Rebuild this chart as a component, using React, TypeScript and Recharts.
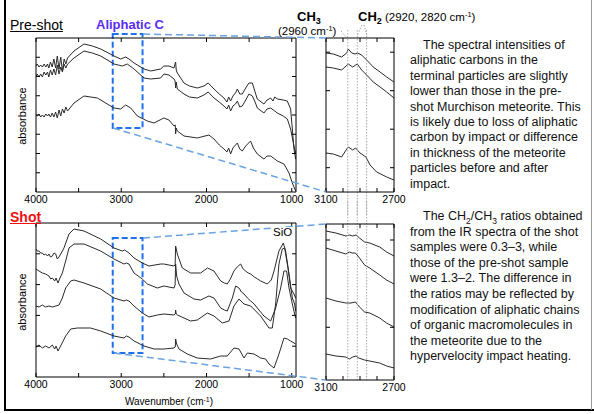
import type { ReactNode } from "react";
import { Line, LineChart, ReferenceArea, ReferenceLine, XAxis, YAxis } from "recharts";

type Pt = [number, number]; // [wavenumber cm-1, absorbance (arb., offset)]

// pre-shot, full range
const preShotUpper: Pt[] = [
  [4000, 126], [3985, 128], [3965, 125], [3945, 127], [3925, 125], [3905, 128], [3885, 125], [3865, 128],
  [3850, 124], [3830, 130], [3810, 125], [3790, 133], [3770, 124], [3750, 136], [3730, 123], [3710, 135],
  [3690, 121], [3670, 133], [3650, 128], [3630, 134], [3554, 141], [3437, 148], [3339, 146], [3241, 143],
  [3085, 136], [3007, 133], [2948, 135], [2909, 133], [2850, 129], [2733, 123], [2655, 121], [2538, 123],
  [2500, 126], [2440, 126], [2381, 124], [2370, 128], [2362, 130], [2355, 122], [2342, 119], [2264, 109],
  [2200, 106], [2108, 104], [2030, 106], [1980, 109], [1912, 103], [1850, 98], [1795, 94], [1760, 90],
  [1740, 95], [1717, 91], [1690, 96], [1660, 99], [1638, 103], [1610, 98], [1580, 98], [1540, 104],
  [1502, 109], [1462, 109], [1430, 100], [1404, 93], [1326, 88], [1290, 92], [1247, 94], [1220, 91],
  [1200, 95], [1169, 93], [1100, 92], [1052, 91], [1013, 83], [993, 63], [974, 43], [954, 33]
];
const preShotMiddle: Pt[] = [
  [4000, 116], [3985, 118], [3965, 115], [3945, 118], [3925, 115], [3905, 120], [3885, 117], [3865, 120],
  [3850, 115], [3830, 122], [3810, 117], [3790, 123], [3770, 117], [3750, 127], [3730, 118], [3710, 125],
  [3690, 120], [3670, 128], [3650, 124], [3630, 128], [3554, 134], [3437, 141], [3339, 139], [3241, 136],
  [3085, 128], [2987, 126], [2929, 128], [2850, 123], [2733, 114], [2655, 113], [2538, 114], [2500, 118],
  [2440, 117], [2381, 113], [2368, 111], [2362, 104], [2355, 110], [2342, 103], [2264, 98], [2200, 95],
  [2108, 94], [2030, 97], [1980, 100], [1912, 94], [1850, 90], [1795, 86], [1760, 83], [1740, 87],
  [1717, 81], [1690, 86], [1660, 88], [1638, 91], [1610, 85], [1580, 86], [1540, 92], [1502, 98],
  [1462, 96], [1430, 90], [1404, 84], [1326, 79], [1290, 83], [1247, 84], [1200, 81], [1169, 79],
  [1100, 76], [1052, 73], [1013, 63], [974, 46], [954, 39]
];
const preShotLower: Pt[] = [
  [4000, 77], [3985, 76], [3965, 78], [3945, 75], [3925, 77], [3905, 75], [3885, 78], [3865, 76],
  [3850, 78], [3830, 75], [3810, 79], [3790, 75], [3770, 80], [3750, 74], [3730, 82], [3710, 76],
  [3690, 83], [3670, 79], [3650, 85], [3630, 81], [3554, 89], [3437, 96], [3280, 94], [3085, 84],
  [3007, 83], [2948, 87], [2889, 84], [2811, 76], [2694, 71], [2616, 69], [2500, 74], [2440, 72],
  [2381, 66], [2366, 67], [2362, 58], [2355, 64], [2342, 61], [2264, 56], [2108, 54], [1972, 57],
  [1912, 53], [1850, 47], [1795, 43], [1760, 40], [1740, 44], [1717, 38], [1690, 44], [1660, 47],
  [1638, 49], [1610, 43], [1580, 41], [1540, 46], [1483, 51], [1450, 44], [1404, 38], [1326, 33],
  [1290, 36], [1247, 36], [1200, 33], [1169, 31], [1091, 28], [1032, 19], [993, 9], [954, 1]
];

// shot samples, full range
const shot1: Pt[] = [
  [4000, 128], [3985, 126], [3965, 126], [3945, 124], [3926, 124], [3905, 122], [3887, 123], [3865, 121],
  [3848, 123], [3830, 120], [3808, 121], [3789, 124], [3769, 123], [3750, 118], [3730, 120], [3711, 123],
  [3690, 126], [3672, 129], [3613, 143], [3554, 148], [3437, 146], [3241, 138], [3085, 129], [2987, 126],
  [2960, 127], [2909, 124], [2850, 119], [2753, 114], [2675, 111], [2538, 113], [2500, 113], [2381, 111],
  [2368, 112], [2362, 131], [2350, 126], [2342, 123], [2284, 109], [2186, 104], [2069, 104], [1990, 109],
  [1912, 106], [1834, 96], [1790, 94], [1756, 93], [1720, 98], [1678, 106], [1640, 110], [1600, 113],
  [1570, 108], [1541, 106], [1510, 104], [1482, 103], [1440, 100], [1400, 98], [1365, 96], [1287, 93],
  [1240, 97], [1208, 106], [1150, 126], [1099, 134], [1072, 126], [1032, 103], [993, 79], [966, 73], [954, 66]
];
const shot2: Pt[] = [
  [4000, 108], [3965, 106], [3926, 104], [3887, 103], [3848, 101], [3828, 98], [3808, 99], [3781, 96],
  [3765, 99], [3742, 94], [3719, 99], [3691, 104], [3652, 116], [3613, 129], [3554, 133], [3437, 133],
  [3241, 126], [3085, 118], [2968, 113], [2940, 114], [2909, 113], [2850, 104], [2753, 98], [2694, 93],
  [2577, 89], [2500, 91], [2381, 89], [2368, 92], [2362, 113], [2350, 101], [2323, 93], [2264, 84],
  [2147, 78], [2069, 77], [1971, 81], [1912, 79], [1834, 69], [1790, 67], [1756, 66], [1697, 79],
  [1658, 91], [1619, 89], [1590, 85], [1560, 83], [1520, 79], [1482, 76], [1440, 73], [1404, 69],
  [1326, 61], [1247, 56], [1189, 69], [1130, 89], [1091, 106], [1060, 106], [1032, 89], [1010, 80],
  [993, 73], [974, 66], [954, 59]
];
const shot3: Pt[] = [
  [4000, 71], [3965, 70], [3926, 72], [3887, 70], [3848, 71], [3808, 70], [3769, 71], [3730, 72],
  [3691, 79], [3652, 89], [3593, 96], [3554, 97], [3437, 94], [3241, 88], [3085, 79], [2968, 76],
  [2940, 77], [2909, 76], [2850, 71], [2753, 64], [2675, 60], [2577, 62], [2500, 63], [2381, 62],
  [2366, 63], [2362, 67], [2355, 63], [2342, 62], [2186, 56], [2108, 57], [1990, 64], [1912, 61],
  [1815, 54], [1736, 56], [1678, 71], [1619, 78], [1560, 73], [1482, 71], [1365, 61], [1267, 49],
  [1228, 49], [1189, 73], [1150, 113], [1111, 128], [1083, 129], [1044, 109], [1013, 89], [974, 83], [954, 79]
];
const shot4: Pt[] = [
  [4000, 30], [3965, 32], [3926, 29], [3887, 31], [3848, 29], [3808, 32], [3781, 28], [3765, 31],
  [3742, 26], [3711, 31], [3652, 41], [3593, 48], [3515, 49], [3359, 49], [3241, 46], [3085, 41],
  [2968, 39], [2940, 41], [2909, 40], [2850, 36], [2733, 31], [2616, 28], [2500, 28], [2381, 29],
  [2366, 30], [2362, 38], [2350, 33], [2323, 28], [2225, 23], [2108, 19], [1951, 18], [1834, 21],
  [1756, 21], [1678, 29], [1619, 28], [1560, 19], [1521, 24], [1443, 23], [1365, 19], [1306, 18],
  [1267, 13], [1208, 9], [1150, 23], [1091, 39], [1052, 38], [1013, 36], [954, 33]
];

// zoomed aliphatic C-H region
const preZoom1: Pt[] = [
  [3100, 139], [3057, 138], [3008, 135], [2978, 139], [2969, 143], [2949, 139], [2929, 138], [2916, 139],
  [2890, 137], [2861, 132], [2822, 125], [2782, 120], [2743, 115], [2700, 110]
];
const preZoom2: Pt[] = [
  [3100, 125], [3057, 124], [3008, 122], [2969, 128], [2943, 125], [2916, 128], [2890, 122], [2861, 117],
  [2822, 110], [2782, 105], [2743, 100], [2700, 94]
];
const preZoom3: Pt[] = [
  [3100, 39], [3057, 38], [3008, 35], [2978, 43], [2969, 45], [2943, 42], [2926, 44], [2900, 39],
  [2865, 35], [2841, 27], [2802, 20], [2743, 15], [2700, 12]
];
const shotZoom1: Pt[] = [
  [3100, 149], [3042, 147], [2983, 144], [2963, 145], [2943, 144], [2923, 145], [2903, 142], [2873, 138],
  [2843, 137], [2784, 133], [2744, 128], [2700, 124]
];
const shotZoom2: Pt[] = [
  [3100, 132], [3042, 129], [2983, 126], [2963, 128], [2947, 127], [2927, 127], [2903, 122], [2873, 115],
  [2843, 112], [2784, 105], [2744, 100], [2700, 96]
];
const shotZoom3: Pt[] = [
  [3100, 82], [3042, 79], [2983, 77], [2953, 77], [2927, 78], [2903, 73], [2873, 68], [2843, 67],
  [2784, 62], [2744, 57], [2700, 53]
];
const shotZoom4: Pt[] = [
  [3100, 26], [3042, 24], [2983, 23], [2963, 21], [2943, 23], [2923, 24], [2907, 22], [2873, 20],
  [2843, 19], [2784, 17], [2744, 14], [2700, 12]
];

const mainXTicks = [4000, 3500, 3000, 2500, 2000, 1500, 1000];
const mainXLabels = [4000, 3000, 2000, 1000];
const zoomXTicks = [3100, 3000, 2900, 2800, 2700];
const zoomXLabels = [3100, 2700];
const preYTicks = [19.25, 38.5, 57.75, 77, 96.25, 115.5, 134.75];
const shotYTicks = [30.8, 61.6, 92.4, 123.2];
const preZoomYTicks = [24.3, 62.8, 101.3, 139.8];
const shotZoomYTicks = [52.7, 140];
const peakLines = [2972, 2916, 2861];
const zoomRange = [3100, 2750];

const rows = (pts: Pt[]) => pts.map(([w, v]) => ({ w, v }));
const blank = () => "";

type PanelProps = {
  left: number;
  top: number;
  width: number;
  height: number;
  margin: { top: number; right: number; bottom: number; left: number };
  xDomain: [number, number];
  yDomain: [number, number];
  xTicks: number[];
  xLabels: number[];
  yTicks: number[];
  curves: Pt[][];
  children?: ReactNode;
};

function Panel(p: PanelProps) {
  const shared = { type: "number" as const, allowDataOverflow: true, interval: 0, tickSize: -4, stroke: "#000" };
  return (
    <div style={{ position: "absolute", left: p.left, top: p.top }}>
      <LineChart width={p.width} height={p.height} margin={p.margin}>
        <XAxis
          {...shared}
          xAxisId="b"
          dataKey="w"
          domain={p.xDomain}
          reversed
          ticks={p.xTicks}
          tickFormatter={(v: number) => (p.xLabels.includes(v) ? String(v) : "")}
          tickMargin={8}
          height={20}
          tick={{ fontSize: 10.5, fill: "#000" }}
        />
        <XAxis {...shared} xAxisId="t" orientation="top" dataKey="w" domain={p.xDomain} reversed ticks={p.xTicks} tickFormatter={blank} height={1} />
        <YAxis {...shared} yAxisId="l" domain={p.yDomain} ticks={p.yTicks} tickFormatter={blank} width={1} />
        <YAxis {...shared} yAxisId="r" orientation="right" domain={p.yDomain} ticks={p.yTicks} tickFormatter={blank} width={1} />
        {p.curves.map((c, i) => (
          <Line
            key={i}
            data={rows(c)}
            dataKey="v"
            xAxisId="b"
            yAxisId="l"
            type="linear"
            stroke="#2a2a2a"
            strokeWidth={1}
            dot={false}
            isAnimationActive={false}
          />
        ))}
        {p.children}
      </LineChart>
    </div>
  );
}

const boxStyle = { stroke: "#1f70f0", strokeWidth: 2, strokeDasharray: "6 3", fill: "none" };
const dotLine = { stroke: "#a8a8a8", strokeWidth: 1, strokeDasharray: "1.5 1.5" };

const para1 = [
  "The spectral intensities of",
  "aliphatic carbons in the",
  "terminal particles are slightly",
  "lower than those in the pre-",
  "shot Murchison meteorite. This",
  "is likely due to loss of aliphatic",
  "carbon by impact or difference",
  "in thickness of the meteorite",
  "particles before and after",
  "impact."
];
const para2Rest = [
  "from the IR spectra of the shot",
  "samples were 0.3–3, while",
  "those of the pre-shot sample",
  "were 1.3–2. The difference in",
  "the ratios may be reflected by",
  "modification of aliphatic chains",
  "of organic macromolecules in",
  "the meteorite due to the",
  "hypervelocity impact heating."
];

const abs = (left: number, top: number, extra = {}) => ({ position: "absolute" as const, left, top, whiteSpace: "nowrap" as const, lineHeight: 1, ...extra });
const subStyle = { fontSize: 9, lineHeight: 0, verticalAlign: "-3px" };
const supStyle = { fontSize: 7.5, lineHeight: 0, verticalAlign: "4px" };
const rotated = (top: number) => ({
  position: "absolute" as const,
  left: 22,
  top,
  transform: "translate(-50%, -50%) rotate(-90deg)",
  fontSize: 11,
  whiteSpace: "nowrap" as const
});

export default function App() {
  return (
    <div
      style={{
        position: "fixed",
        left: 0,
        top: 0,
        width: 594,
        height: 414,
        background: "#fff",
        fontFamily: "Arial, 'Liberation Sans', sans-serif",
        color: "#000",
        overflow: "hidden"
      }}
    >
      <Panel
        left={0} top={0} width={310} height={215}
        margin={{ top: 37, right: 13, bottom: 3, left: 35 }}
        xDomain={[950, 4000]} yDomain={[0, 154]}
        xTicks={mainXTicks} xLabels={mainXLabels} yTicks={preYTicks}
        curves={[preShotUpper, preShotMiddle, preShotLower]}
      >
        <ReferenceArea x1={zoomRange[0]} x2={zoomRange[1]} y1={64} y2={158} xAxisId="b" yAxisId="l" ifOverflow="visible" {...boxStyle} />
      </Panel>
      <Panel
        left={0} top={200} width={310} height={200}
        margin={{ top: 22, right: 13, bottom: 3, left: 35 }}
        xDomain={[950, 4000]} yDomain={[0, 154]}
        xTicks={mainXTicks} xLabels={mainXLabels} yTicks={shotYTicks}
        curves={[shot1, shot2, shot3, shot4]}
      >
        <ReferenceArea x1={zoomRange[0]} x2={zoomRange[1]} y1={24} y2={139} xAxisId="b" yAxisId="l" ifOverflow="visible" {...boxStyle} />
      </Panel>
      <Panel
        left={300} top={0} width={110} height={215}
        margin={{ top: 37, right: 15, bottom: 3, left: 25 }}
        xDomain={[2700, 3100]} yDomain={[0, 154]}
        xTicks={zoomXTicks} xLabels={zoomXLabels} yTicks={preZoomYTicks}
        curves={[preZoom1, preZoom2, preZoom3]}
      >
        {peakLines.map((x) => (
          <ReferenceLine key={x} segment={[{ x, y: 162 }, { x, y: -23 }]} xAxisId="b" yAxisId="l" ifOverflow="visible" {...dotLine} />
        ))}
      </Panel>
      <Panel
        left={300} top={200} width={110} height={203}
        margin={{ top: 23, right: 15, bottom: 3, left: 25 }}
        xDomain={[2700, 3100]} yDomain={[0, 156]}
        xTicks={zoomXTicks} xLabels={zoomXLabels} yTicks={shotZoomYTicks}
        curves={[shotZoom1, shotZoom2, shotZoom3, shotZoom4]}
      >
        {peakLines.map((x) => (
          <ReferenceLine key={x} segment={[{ x, y: 190 }, { x, y: 0 }]} xAxisId="b" yAxisId="l" ifOverflow="visible" {...dotLine} />
        ))}
      </Panel>

      {/* zoom connectors, label leaders and page frame */}
      <svg width={594} height={414} style={{ position: "absolute", left: 0, top: 0, pointerEvents: "none" }}>
        <g stroke="#6aa3e0" strokeWidth={1.5} strokeDasharray="7 4" fill="none">
          <line x1={143} y1={34} x2={326} y2={38} />
          <line x1={113} y1={128} x2={326} y2={192} />
          <line x1={143} y1={238} x2={326} y2={224} />
          <line x1={114} y1={353} x2={326} y2={380} />
        </g>
        <g stroke="#a8a8a8" strokeWidth={1} strokeDasharray="1.5 1.5">
          <line x1={341} y1={31} x2={347} y2={38} />
          <line x1={362} y1={25} x2={357} y2={36} />
          <line x1={364} y1={25} x2={367} y2={36} />
        </g>
        <line x1={5} y1={0} x2={5} y2={410} stroke="#000" strokeWidth={2} />
        <line x1={4} y1={410} x2={594} y2={410} stroke="#000" strokeWidth={2} />
        <line x1={591.5} y1={0} x2={591.5} y2={410} stroke="#999" strokeWidth={1} />
      </svg>

      <div style={abs(10, 18, { fontSize: 14, textDecoration: "underline" })}>Pre-shot</div>
      <div style={abs(96, 18, { fontSize: 13, fontWeight: 700, color: "#5a2cf5" })}>Aliphatic C</div>
      <div style={abs(10, 210, { fontSize: 14, fontWeight: 700, color: "#f01010", textDecoration: "underline" })}>Shot</div>
      <div style={abs(272, 227, { fontSize: 11.5, background: "#fff", padding: "0 1px" })}>SiO</div>

      <div style={abs(297, 10, { fontSize: 13, fontWeight: 700 })}>
        CH<sub style={subStyle}>3</sub>
      </div>
      <div style={abs(278, 26, { fontSize: 11.5 })}>
        (2960 cm<sup style={supStyle}>-1</sup>)
      </div>
      <div style={abs(358, 10, { fontSize: 13 })}>
        <b>CH<sub style={subStyle}>2</sub></b>
        <span style={{ fontSize: 11.5 }}> (2920, 2820 cm<sup style={supStyle}>-1</sup>)</span>
      </div>

      <div style={rotated(116)}>absorbance</div>
      <div style={rotated(302)}>absorbance</div>
      <div style={{ position: "absolute", left: 169, top: 401, transform: "translate(-50%, -50%)", fontSize: 10, whiteSpace: "nowrap" }}>
        Wavenumber (cm<sup style={{ fontSize: 7, lineHeight: 0, verticalAlign: "3px" }}>-1</sup>)
      </div>

      <div style={{ position: "absolute", left: 410, top: 38, fontSize: 12.5, lineHeight: "15.4px", color: "#111" }}>
        {para1.map((t, i) => (
          <div key={i} style={{ whiteSpace: "nowrap", paddingLeft: i === 0 ? 13 : 0 }}>{t}</div>
        ))}
      </div>
      <div style={{ position: "absolute", left: 410, top: 209, fontSize: 12.5, lineHeight: "15.6px", color: "#111" }}>
        <div style={{ whiteSpace: "nowrap", paddingLeft: 13 }}>
          The CH<sub style={{ fontSize: 8.5, lineHeight: 0 }}>2</sub>/CH<sub style={{ fontSize: 8.5, lineHeight: 0 }}>3</sub> ratios obtained
        </div>
        {para2Rest.map((t, i) => (
          <div key={i} style={{ whiteSpace: "nowrap" }}>{t}</div>
        ))}
      </div>
    </div>
  );
}
